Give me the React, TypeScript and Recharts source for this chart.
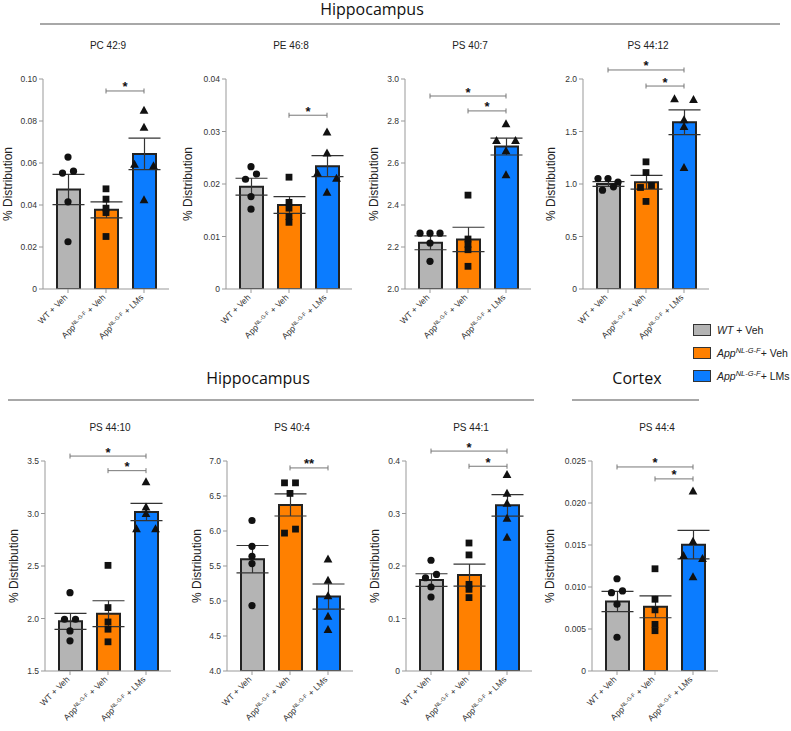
import React from "react";
import {
  Bar,
  Cell,
  ComposedChart,
  ErrorBar,
  ReferenceLine,
  Scatter,
  XAxis,
  YAxis,
} from "recharts";

const FILLS = ["#B4B4B4", "#FF8000", "#0B7CFF"];
const FONT = "'Liberation Sans', Arial, sans-serif";
const HEAD_FONT = "'Open Sans', sans-serif";

// group keys on the category axis
const GROUPS = ["wt", "app", "lms"];

// PC 42:9
const pc429Wt = [0.0628, 0.0561, 0.0552, 0.0415, 0.0225];
const pc429App = [0.0477, 0.0428, 0.0385, 0.0364, 0.025];
const pc429Lms = [0.0851, 0.077, 0.0593, 0.0586, 0.0425];
const pc429Mean = [0.0474, 0.0377, 0.0643];
const pc429Sem = [0.0072, 0.0038, 0.0075];
const pc429Ticks = [0, 0.02, 0.04, 0.06, 0.08, 0.1];
const pc429Sig = [{ from: 1, to: 2, y: 0.0943, mark: "*" }];

// PE 46:8
const pe468Wt = [0.0233, 0.0219, 0.0209, 0.0176, 0.0152];
const pe468App = [0.0213, 0.0165, 0.0154, 0.0138, 0.0127];
const pe468Lms = [0.0299, 0.0259, 0.0221, 0.0211, 0.0184];
const pe468Mean = [0.0195, 0.016, 0.0234];
const pe468Sem = [0.0016, 0.0016, 0.002];
const pe468Ticks = [0, 0.01, 0.02, 0.03, 0.04];
const pe468Sig = [{ from: 1, to: 2, y: 0.0331, mark: "*" }];

// PS 40:7
const ps407Wt = [2.266, 2.266, 2.266, 2.219, 2.132];
const ps407App = [2.447, 2.238, 2.212, 2.187, 2.108];
const ps407Lms = [2.786, 2.707, 2.707, 2.658, 2.544];
const ps407Mean = [2.22, 2.236, 2.678];
const ps407Sem = [0.033, 0.058, 0.04];
const ps407Ticks = [2.0, 2.2, 2.4, 2.6, 2.8, 3.0];
const ps407Sig = [
  { from: 0, to: 2, y: 2.919, mark: "*" },
  { from: 1, to: 2, y: 2.848, mark: "*" },
];

// PS 44:12
const ps4412Wt = [1.052, 1.052, 1.017, 0.973, 0.941];
const ps4412App = [1.211, 1.109, 0.986, 0.967, 0.834];
const ps4412Lms = [1.81, 1.804, 1.61, 1.547, 1.157];
const ps4412Mean = [1.0, 1.017, 1.588];
const ps4412Sem = [0.022, 0.065, 0.118];
const ps4412Ticks = [0, 0.5, 1.0, 1.5, 2.0];
const ps4412Sig = [
  { from: 0, to: 2, y: 2.086, mark: "*" },
  { from: 1, to: 2, y: 1.933, mark: "*" },
];

// PS 44:10
const ps4410Wt = [2.246, 1.993, 1.993, 1.882, 1.787];
const ps4410App = [2.506, 2.104, 1.967, 1.898, 1.778];
const ps4410Lms = [3.301, 3.061, 2.998, 2.853, 2.853];
const ps4410Mean = [1.973, 2.046, 3.014];
const ps4410Sem = [0.076, 0.123, 0.082];
const ps4410Ticks = [1.5, 2.0, 2.5, 3.0, 3.5];
const ps4410Sig = [
  { from: 0, to: 2, y: 3.547, mark: "*" },
  { from: 1, to: 2, y: 3.408, mark: "*" },
];

// PS 40:4
const ps404Wt = [6.15, 5.781, 5.639, 5.535, 4.935];
const ps404App = [6.688, 6.688, 6.537, 6.027, 5.97];
const ps404Lms = [5.597, 5.294, 5.072, 4.78, 4.591];
const ps404Mean = [5.597, 6.372, 5.063];
const ps404Sem = [0.196, 0.158, 0.18];
const ps404Ticks = [4.0, 4.5, 5.0, 5.5, 6.0, 6.5, 7.0];
const ps404Sig = [{ from: 1, to: 2, y: 6.901, mark: "**" }];

// PS 44:1
const ps441Wt = [0.211, 0.1839, 0.1776, 0.16, 0.141];
const ps441App = [0.2438, 0.2211, 0.165, 0.1556, 0.1398];
const ps441Lms = [0.3742, 0.3383, 0.3194, 0.291, 0.2545];
const ps441Mean = [0.1732, 0.1827, 0.3156];
const ps441Sem = [0.012, 0.021, 0.0205];
const ps441Ticks = [0, 0.1, 0.2, 0.3, 0.4];
const ps441Sig = [
  { from: 0, to: 2, y: 0.4189, mark: "*" },
  { from: 1, to: 2, y: 0.39, mark: "*" },
];

// PS 44:4 (cortex)
const ps444Wt = [0.01098, 0.00953, 0.00933, 0.00795, 0.00402];
const ps444App = [0.01217, 0.00854, 0.00728, 0.00555, 0.0048];
const ps444Lms = [0.02142, 0.01543, 0.01374, 0.01339, 0.01122];
const ps444Mean = [0.00827, 0.00764, 0.01504];
const ps444Sem = [0.0012, 0.0013, 0.0017];
const ps444Ticks = [0, 0.005, 0.01, 0.015, 0.02, 0.025];
const ps444Sig = [
  { from: 0, to: 2, y: 0.02429, mark: "*" },
  { from: 1, to: 2, y: 0.02287, mark: "*" },
];

// x = left edge of plot (y axis), y = top of plot
const PANELS = [
  { title: "PC 42:9", x: 43, y: 79, dec: 2, gap: 35, pts: [pc429Wt, pc429App, pc429Lms], mean: pc429Mean, sem: pc429Sem, ticks: pc429Ticks, sig: pc429Sig },
  { title: "PE 46:8", x: 226, y: 79, dec: 2, gap: 38, pts: [pe468Wt, pe468App, pe468Lms], mean: pe468Mean, sem: pe468Sem, ticks: pe468Ticks, sig: pe468Sig },
  { title: "PS 40:7", x: 405, y: 79, dec: 1, gap: 31, pts: [ps407Wt, ps407App, ps407Lms], mean: ps407Mean, sem: ps407Sem, ticks: ps407Ticks, sig: ps407Sig },
  { title: "PS 44:12", x: 583, y: 79, dec: 1, gap: 32, pts: [ps4412Wt, ps4412App, ps4412Lms], mean: ps4412Mean, sem: ps4412Sem, ticks: ps4412Ticks, sig: ps4412Sig },
  { title: "PS 44:10", x: 45, y: 461, dec: 1, gap: 31, pts: [ps4410Wt, ps4410App, ps4410Lms], mean: ps4410Mean, sem: ps4410Sem, ticks: ps4410Ticks, sig: ps4410Sig },
  { title: "PS 40:4", x: 227, y: 461, dec: 1, gap: 30, pts: [ps404Wt, ps404App, ps404Lms], mean: ps404Mean, sem: ps404Sem, ticks: ps404Ticks, sig: ps404Sig },
  { title: "PS 44:1", x: 406, y: 461, dec: 1, gap: 31, pts: [ps441Wt, ps441App, ps441Lms], mean: ps441Mean, sem: ps441Sem, ticks: ps441Ticks, sig: ps441Sig },
  { title: "PS 44:4", x: 592, y: 461, dec: 3, gap: 42, pts: [ps444Wt, ps444App, ps444Lms], mean: ps444Mean, sem: ps444Sem, ticks: ps444Ticks, sig: ps444Sig },
];

const PLOT_W = 126;
const PLOT_H = 210;
const BAND = 38;
const Y_W = 50;
const M_TOP = 50;
const X_H = 62;
const M_RIGHT = 8;

// spread points that would overlap, roughly like GraphPad's scatter
function swarm(vals: number[], gi: number, pxPerUnit: number) {
  const thr = gi === 1 ? 4.2 : 6;
  const pair = gi === 2 ? 9.5 : 5.5;
  const order = vals.map((_, i) => i).sort((a, b) => vals[b] - vals[a]);
  const out: { x: number; y: number }[] = [];
  let row: number[] = [];
  const flush = () => {
    const n = row.length;
    row.forEach((idx, k) => {
      let dx = 0;
      if (n === 2) dx = (k === 0 ? 1 : -1) * pair * (gi === 2 ? -1 : 1);
      else if (n > 2) dx = Math.ceil(k / 2) * 10 * (k % 2 ? -1 : 1);
      out.push({ x: gi + dx / BAND, y: vals[idx] });
    });
    row = [];
  };
  order.forEach((i) => {
    if (row.length && (vals[row[0]] - vals[i]) * pxPerUnit >= thr) flush();
    row.push(i);
  });
  flush();
  return out;
}

function marker(gi: number) {
  return (props: any) => {
    const { cx, cy } = props;
    if (gi === 0) return <circle cx={cx} cy={cy} r={3.6} fill="#111" />;
    if (gi === 1) return <rect x={cx - 3.4} y={cy - 3.4} width={6.8} height={6.8} fill="#111" />;
    return (
      <polygon
        points={`${cx},${cy - 4.6} ${cx - 4.4},${cy + 3.4} ${cx + 4.4},${cy + 3.4}`}
        fill="#111"
      />
    );
  };
}

function bracket(mark: string) {
  return (props: any) => {
    const { x1, x2, y1 } = props;
    return (
      <g>
        <path
          d={`M${x1},${y1 - 2.5}V${y1 + 2.5}M${x1},${y1}H${x2}M${x2},${y1 - 2.5}V${y1 + 2.5}`}
          stroke="#777"
          strokeWidth={1}
          fill="none"
        />
        <text
          x={(x1 + x2) / 2}
          y={y1 + 0.5}
          textAnchor="middle"
          fontSize={13}
          fontWeight="bold"
          fill="#111"
          fontFamily={FONT}
        >
          {mark}
        </text>
      </g>
    );
  };
}

const TICK_PARTS = [
  { base: "WT", sup: "", rest: " + Veh" },
  { base: "App", sup: "NL-G-F", rest: " + Veh" },
  { base: "App", sup: "NL-G-F", rest: " + LMs" },
];

function GroupTick(props: any) {
  const { x, y, index } = props;
  const t = TICK_PARTS[index];
  return (
    <g transform={`translate(${x},${y})`}>
      <text
        transform="translate(0,3) rotate(-45)"
        textAnchor="end"
        fontSize={8.5}
        fill="#333"
        fontFamily={FONT}
      >
        {t.base}
        {t.sup ? (
          <tspan dy={-3} fontSize={5.5}>
            {t.sup}
          </tspan>
        ) : null}
        <tspan dy={t.sup ? 3 : 0}>{t.rest}</tspan>
      </text>
    </g>
  );
}

function Panel({ p }: { p: (typeof PANELS)[number] }) {
  const min = p.ticks[0];
  const max = p.ticks[p.ticks.length - 1];
  const pxPerUnit = PLOT_H / (max - min);
  const rows = GROUPS.map((k, i) => ({ key: k, mean: p.mean[i], sem: p.sem[i] }));
  const pts = p.pts.map((vals, gi) => swarm(vals, gi, pxPerUnit));
  const fmt = (v: number) => (v === 0 ? "0" : v.toFixed(p.dec));
  return (
    <>
      <div
        style={{
          position: "absolute",
          left: p.x + 65 - 50,
          width: 100,
          top: p.y - 39,
          lineHeight: "12px",
          textAlign: "center",
          fontSize: 10,
          color: "#222",
          fontFamily: FONT,
        }}
      >
        {p.title}
      </div>
      <div style={{ position: "absolute", left: p.x - Y_W, top: p.y - M_TOP }}>
        <ComposedChart
          width={Y_W + PLOT_W + M_RIGHT}
          height={M_TOP + PLOT_H + X_H}
          data={rows}
          margin={{ top: M_TOP, right: M_RIGHT, bottom: 0, left: 0 }}
        >
          <XAxis
            xAxisId="cat"
            dataKey="key"
            type="category"
            height={X_H}
            interval={0}
            padding={{ left: 6, right: 6 }}
            tick={<GroupTick />}
            tickSize={4}
            tickLine={{ stroke: "#999" }}
            axisLine={{ stroke: "#999" }}
          />
          <XAxis
            xAxisId="num"
            dataKey="x"
            type="number"
            domain={[-0.5, 2.5]}
            allowDataOverflow
            padding={{ left: 6, right: 6 }}
            hide
          />
          <YAxis
            domain={[min, max]}
            ticks={p.ticks}
            allowDataOverflow
            interval={0}
            width={Y_W}
            tickFormatter={fmt}
            tickSize={4}
            tick={{ fontSize: 8.5, fill: "#333", fontFamily: FONT }}
            tickLine={{ stroke: "#999" }}
            axisLine={{ stroke: "#999" }}
            label={{
              value: "% Distribution",
              angle: -90,
              position: "insideLeft",
              offset: Y_W - p.gap,
              fontSize: 12,
              fill: "#222",
              fontFamily: FONT,
              style: { textAnchor: "middle" },
            }}
          />
          <Bar
            xAxisId="cat"
            dataKey="mean"
            barSize={23}
            stroke="#222"
            strokeWidth={2}
            isAnimationActive={false}
          >
            {rows.map((r, i) => (
              <Cell key={r.key} fill={FILLS[i]} />
            ))}
            <ErrorBar dataKey="sem" width={16} stroke="#333" strokeWidth={1.2} direction="y" />
          </Bar>
          {pts.map((d, gi) => (
            <Scatter
              key={gi}
              xAxisId="num"
              data={d}
              dataKey="y"
              shape={marker(gi)}
              isAnimationActive={false}
            />
          ))}
          {p.sig.map((s, i) => (
            <ReferenceLine
              key={i}
              xAxisId="num"
              segment={[
                { x: s.from, y: s.y },
                { x: s.to, y: s.y },
              ]}
              ifOverflow="visible"
              shape={bracket(s.mark)}
            />
          ))}
        </ComposedChart>
      </div>
    </>
  );
}

function Header({ text, cx, top }: { text: string; cx: number; top: number }) {
  return (
    <div
      style={{
        position: "absolute",
        left: cx - 100,
        width: 200,
        top,
        lineHeight: "17px",
        fontSize: 16,
        textAlign: "center",
        fontFamily: HEAD_FONT,
        color: "#111",
      }}
    >
      {text}
    </div>
  );
}

function Rule({ x1, x2, y }: { x1: number; x2: number; y: number }) {
  return (
    <div
      style={{ position: "absolute", left: x1, width: x2 - x1, top: y, height: 2, background: "#A8A8A8" }}
    />
  );
}

const LEGEND = [
  { base: "WT", sup: "", rest: " + Veh" },
  { base: "App", sup: "NL-G-F", rest: "+ Veh" },
  { base: "App", sup: "NL-G-F", rest: "+ LMs" },
];

function Legend() {
  return (
    <>
      {LEGEND.map((l, i) => (
        <div
          key={i}
          style={{
            position: "absolute",
            left: 693,
            top: 323 + i * 23,
            height: 14,
            display: "flex",
            alignItems: "center",
            fontFamily: FONT,
            fontSize: 10.5,
            color: "#222",
            whiteSpace: "nowrap",
          }}
        >
          <div
            style={{
              width: 16,
              height: 10,
              background: FILLS[i],
              border: "1.5px solid #333",
              marginRight: 6,
            }}
          />
          <span>
            <i>{l.base}</i>
            {l.sup ? <sup style={{ fontSize: 7.5, fontStyle: "italic", lineHeight: 0 }}>{l.sup}</sup> : null}
            {l.rest}
          </span>
        </div>
      ))}
    </>
  );
}

export default function App() {
  return (
    <div
      style={{
        position: "absolute",
        left: 0,
        top: 0,
        width: 791,
        height: 731,
        background: "#fff",
        overflow: "hidden",
      }}
    >
      <Header text="Hippocampus" cx={372} top={1} />
      <Rule x1={40} x2={780} y={23} />
      <Header text="Hippocampus" cx={258} top={370} />
      <Header text="Cortex" cx={637} top={370} />
      <Rule x1={8} x2={534} y={399} />
      <Rule x1={572} x2={699} y={399} />
      {PANELS.map((p) => (
        <Panel key={p.title} p={p} />
      ))}
      <Legend />
    </div>
  );
}
